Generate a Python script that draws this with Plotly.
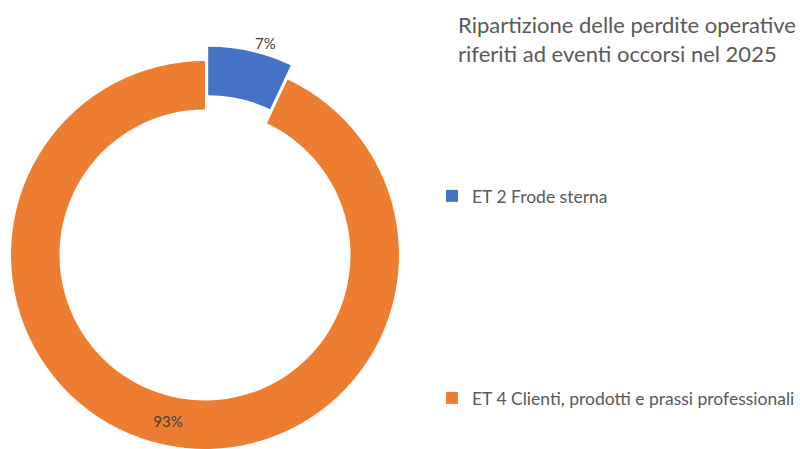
import plotly.graph_objects as go

categories = ["ET 2 Frode sterna", "ET 4 Clienti, prodotti e prassi professionali"]
shares = [7, 93]
colors = ["#4472C4", "#ED7D31"]
title_text = "Ripartizione delle perdite operative<br>riferiti ad eventi occorsi nel 2025"

W, H = 800, 449
FONT = "Lato"
TRANSPARENT = "rgba(0,0,0,0)"

# geometry (pixels)
cx, cy, r = 205, 255, 194
pull_dx, pull_dy = 3.2, 14.2  # exploded slice offset (right, up)

def dom(cx_, cy_, r_):
    x0 = (cx_ - r_) / W
    x1 = (cx_ + r_) / W
    y0 = (H - (cy_ + r_)) / H
    y1 = (H - (cy_ - r_)) / H
    return dict(x=[max(0, x0), min(1, x1)], y=[max(0, y0), min(1, y1)])

fig = go.Figure()

# exploded first slice (blue)
fig.add_trace(go.Pie(
    labels=[categories[0], " "],
    values=shares,
    marker=dict(colors=[colors[0], TRANSPARENT], line=dict(width=0)),
    hole=0.75,
    sort=False,
    direction="clockwise",
    rotation=0,
    texttemplate=["%{percent:.0%}", ""],
    textposition=["outside", "none"],
    textfont=dict(family=FONT, size=15, color="#404040"),
    domain=dom(cx + pull_dx, cy - pull_dy, r),
    legend="legend",
    hoverinfo="skip",
))

# ring (orange)
fig.add_trace(go.Pie(
    labels=[" ", categories[1]],
    values=shares,
    marker=dict(colors=[TRANSPARENT, colors[1]], line=dict(width=0)),
    hole=0.75,
    sort=False,
    direction="clockwise",
    rotation=0,
    texttemplate=["", "%{percent:.0%}"],
    textposition=["none", "inside"],
    insidetextorientation="horizontal",
    textfont=dict(family=FONT, size=15, color="#404040"),
    domain=dom(cx, cy, r),
    legend="legend2",
    hoverinfo="skip",
))

legend_font = dict(family=FONT, size=17.5, color="#595959")
fig.update_layout(
    width=W, height=H,
    margin=dict(l=0, r=0, t=0, b=0),
    paper_bgcolor="white",
    plot_bgcolor="white",
    annotations=[dict(
        text=title_text,
        x=456 / W, xanchor="left", xref="paper",
        y=1 - 9 / H, yanchor="top", yref="paper",
        align="left", showarrow=False,
        font=dict(family=FONT, size=22, color="#595959"),
    )],
    legend=dict(
        x=432 / W, xanchor="left",
        y=1 - 178 / H, yanchor="top",
        font=legend_font, bgcolor=TRANSPARENT,
    ),
    legend2=dict(
        x=432 / W, xanchor="left",
        y=1 - 416 / H, yanchor="bottom",
        font=legend_font, bgcolor=TRANSPARENT,
    ),
    showlegend=True,
)

fig.write_html(
    "out.html",
    config={"displayModeBar": False},
    post_script="document.body.style.margin='0px';",
)
